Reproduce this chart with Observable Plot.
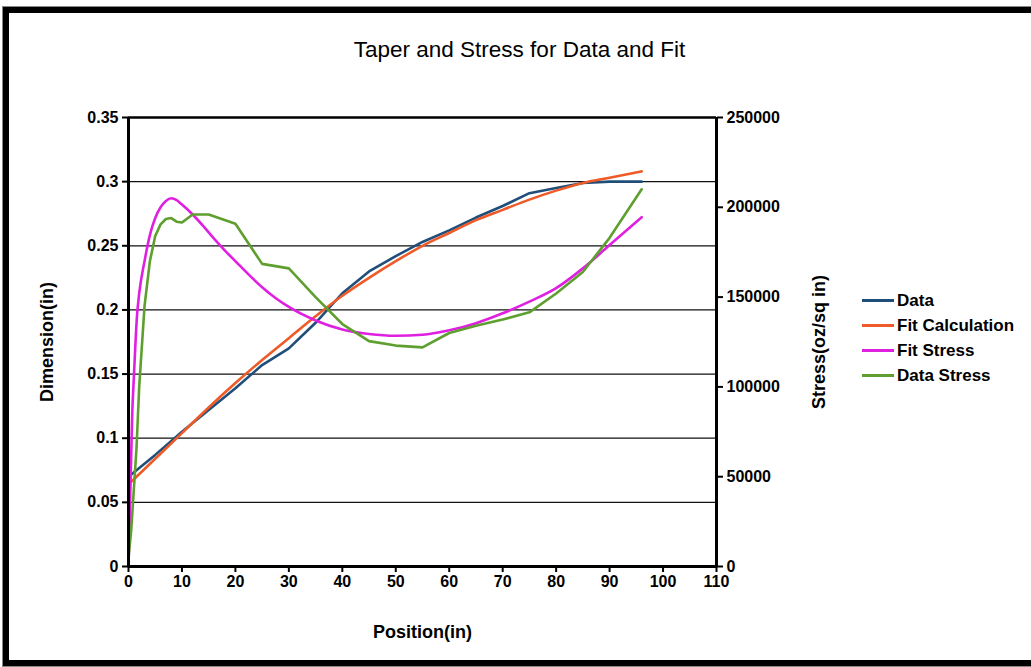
<!DOCTYPE html>
<html><head><meta charset="utf-8">
<script src="https://cdn.jsdelivr.net/npm/d3@7"></script>
<script src="https://cdn.jsdelivr.net/npm/@observablehq/plot@0.6"></script>
<style>
html,body{margin:0;padding:0;background:#fff;overflow:hidden;}
#wrap{position:relative;width:1031px;height:667px;font-family:"Liberation Sans",Arial,sans-serif;color:#000;}
#frame{position:absolute;left:3px;top:7px;width:1100px;height:647px;border:6px solid #000;box-shadow:0 0 0 1px #888;pointer-events:none;z-index:3}
#title{position:absolute;left:0;width:1039px;top:37px;text-align:center;font-size:22.5px;z-index:2}
#legend{position:absolute;left:862px;top:288px;font-weight:bold;font-size:17px;z-index:2}
.item{display:flex;align-items:center;height:25px;white-space:nowrap}
.sw{width:32px;height:3px;margin-right:3px}
#chart{position:absolute;left:0;top:0}
</style></head>
<body>
<div id="wrap">
  <div id="chart"></div>
  <div id="title"></div>
  <div id="legend"></div>
  <div id="frame"></div>
</div>
<script>
const titleText = "Taper and Stress for Data and Fit";
const xLabel = "Position(in)";
const yLeftLabel = "Dimension(in)";
const yRightLabel = "Stress(oz/sq in)";

const xTicks = [0, 10, 20, 30, 40, 50, 60, 70, 80, 90, 100, 110];
const leftTicks = [0, 0.05, 0.1, 0.15, 0.2, 0.25, 0.3, 0.35];
const rightTicks = [0, 50000, 100000, 150000, 200000, 250000];

const seriesNames = ["Data", "Fit Calculation", "Fit Stress", "Data Stress"];
const seriesColors = ["#1F4E7A", "#EE5A28", "#E020E0", "#5E9F2F"];

// Data (dimension, in)
const dataPos = [0, 5, 10, 15, 20, 25, 30, 35, 40, 45, 50, 55, 60, 65, 70, 75, 80, 85, 90, 96];
const dataDim = [0.070, 0.087, 0.105, 0.122, 0.139, 0.157, 0.170, 0.190, 0.213, 0.230, 0.242, 0.253, 0.262, 0.272, 0.281, 0.291, 0.295, 0.299, 0.300, 0.300];

// Fit Calculation (dimension, in)
const fitPos = [0, 5, 10, 15, 20, 25, 30, 35, 40, 45, 50, 55, 60, 65, 70, 75, 80, 85, 90, 96];
const fitDim = [0.064, 0.084, 0.104, 0.124, 0.143, 0.161, 0.178, 0.195, 0.211, 0.225, 0.238, 0.250, 0.260, 0.270, 0.278, 0.286, 0.293, 0.299, 0.303, 0.308];

// Fit Stress (oz/sq in)
const fitStressPos = [0, 0.25, 0.7, 1, 1.6, 2, 3, 4, 5, 6, 7, 8, 9, 10, 12, 14, 16, 18, 20, 22.5, 25, 27.5, 30, 35, 40, 45, 50, 55, 60, 65, 70, 75, 80, 85, 90, 96];
const fitStress = [0, 30000, 85000, 105000, 140000, 152000, 170000, 184500, 194000, 200000, 203500, 205000, 204000, 201500, 196000, 189500, 182500, 176000, 170000, 162500, 155500, 149500, 144500, 137000, 132000, 129500, 128500, 129000, 131500, 135500, 141000, 147500, 155000, 166000, 179000, 194500];

// Data Stress (oz/sq in)
const dataStressPos = [0, 0.5, 1, 1.5, 2, 3, 4, 5, 6, 7, 8, 9, 10, 12, 15, 20, 25, 30, 35, 40, 45, 50, 55, 60, 65, 70, 75, 80, 85, 90, 96];
const dataStress = [5000, 20000, 43000, 66000, 100000, 145000, 170000, 184000, 190500, 193500, 194000, 192000, 191500, 196000, 196000, 190800, 168500, 166000, 150000, 135000, 125500, 123000, 122000, 130000, 134000, 137500, 141500, 152000, 164000, 183000, 210000];

const k = 0.35 / 250000; // right axis -> left axis

const rows = (xs, ys, name) => xs.map((x, i) => ({x, y: ys[i], name}));
const dData = rows(dataPos, dataDim, seriesNames[0]);
const dFit = rows(fitPos, fitDim, seriesNames[1]);
const dFitS = rows(fitStressPos, fitStress, seriesNames[2]);
const dDataS = rows(dataStressPos, dataStress, seriesNames[3]);

const base = {strokeWidth: 2.6, strokeLinejoin: "round", strokeLinecap: "round"};

const chart = Plot.plot({
  width: 1031,
  height: 667,
  marginLeft: 128,
  marginRight: 315,
  marginTop: 117,
  marginBottom: 101,
  style: {fontFamily: "'Liberation Sans', Arial, sans-serif", fontWeight: "bold", color: "#000", background: "transparent"},
  x: {domain: [0, 110]},
  y: {domain: [0, 0.35]},
  marks: [
    Plot.ruleY(leftTicks.slice(1, -1), {stroke: "#111", strokeWidth: 1.3}),
    Plot.ruleY([0.35], {stroke: "#000", strokeWidth: 2.5}),
    Plot.line(dData, {...base, x: "x", y: "y", stroke: seriesColors[0]}),
    Plot.line(dFit, {...base, x: "x", y: "y", stroke: seriesColors[1], curve: "monotone-x"}),
    Plot.line(dFitS, {...base, x: "x", y: d => d.y * k, stroke: seriesColors[2], curve: "monotone-x"}),
    Plot.line(dDataS, {...base, x: "x", y: d => d.y * k, stroke: seriesColors[3]}),
    Plot.ruleX([0], {stroke: "#000", strokeWidth: 3}),
    Plot.ruleX([110], {stroke: "#000", strokeWidth: 3}),
    Plot.ruleY([0], {stroke: "#000", strokeWidth: 3}),
    Plot.axisX({ticks: xTicks, tickSize: 6, tickPadding: 3, fontSize: 16, fontWeight: "bold", strokeWidth: 2, label: null, tickFormat: d => String(d)}),
    Plot.axisY({ticks: leftTicks, anchor: "left", tickSize: 6, tickPadding: 4, fontSize: 16, fontWeight: "bold", strokeWidth: 2, label: null, tickFormat: d => String(d)}),
    Plot.axisY({ticks: rightTicks.map(d => d * k), anchor: "right", tickSize: 6, tickPadding: 4, fontSize: 16, fontWeight: "bold", strokeWidth: 2, label: null, tickFormat: d => String(Math.round(d / k))}),
    Plot.text([yLeftLabel], {text: d => d, frameAnchor: "left", dx: -81, rotate: -90, textAnchor: "middle", lineAnchor: "middle", fontSize: 18, fontWeight: "bold"}),
    Plot.text([yRightLabel], {text: d => d, frameAnchor: "right", dx: 103, rotate: -90, textAnchor: "middle", lineAnchor: "middle", fontSize: 18, fontWeight: "bold"}),
    Plot.text([xLabel], {text: d => d, frameAnchor: "bottom", dy: 66, textAnchor: "middle", lineAnchor: "middle", fontSize: 18, fontWeight: "bold"})
  ]
});
document.getElementById("chart").appendChild(chart);
document.getElementById("title").textContent = titleText;

const legend = document.getElementById("legend");
seriesNames.forEach((n, i) => {
  const it = document.createElement("div");
  it.className = "item";
  const sw = document.createElement("div");
  sw.className = "sw";
  sw.style.background = seriesColors[i];
  const t = document.createElement("span");
  t.textContent = n;
  it.appendChild(sw); it.appendChild(t);
  legend.appendChild(it);
});
</script>
</body></html>
